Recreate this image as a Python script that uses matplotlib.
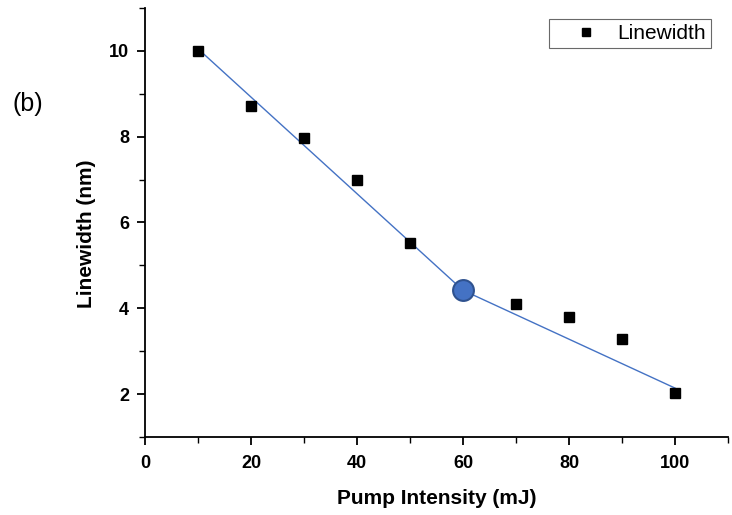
import matplotlib.pyplot as plt
from matplotlib.ticker import MultipleLocator

# measured points
pump = [10, 20, 30, 40, 50, 70, 80, 90, 100]
linewidth = [10.0, 8.72, 7.98, 6.98, 5.53, 4.09, 3.79, 3.28, 2.02]

# two linear fit segments meeting at the threshold point
fit1_x = [10, 60]
fit1_y = [10.05, 4.42]
fit2_x = [60, 100]
fit2_y = [4.42, 2.14]

knee_x = [60]
knee_y = [4.42]


def main():
    plt.rcParams['font.family'] = ['Liberation Sans', 'DejaVu Sans']
    fig = plt.figure(figsize=(7.32, 5.15), dpi=100)
    ax = fig.add_axes([0.198, 0.1515, 0.7965, 0.833])

    ax.plot(fit1_x, fit1_y, color='#4472C4', lw=1.0, zorder=2)
    ax.plot(fit2_x, fit2_y, color='#4472C4', lw=1.0, zorder=2)
    ax.plot(pump, linewidth, 's', color='black', ms=7, label='Linewidth', zorder=3)
    ax.plot(knee_x, knee_y, 'o', color='#4472C4', mec='#2F528F', mew=1.5, ms=15, zorder=4)

    ax.set_xlim(0, 110)
    ax.set_ylim(1, 11)
    ax.xaxis.set_major_locator(MultipleLocator(20))
    ax.xaxis.set_minor_locator(MultipleLocator(10))
    ax.yaxis.set_major_locator(MultipleLocator(2))
    ax.yaxis.set_minor_locator(MultipleLocator(1))
    ax.spines['top'].set_visible(False)
    ax.spines['right'].set_visible(False)
    for s in ('left', 'bottom'):
        ax.spines[s].set_linewidth(1.3)
    ax.tick_params(which='major', direction='out', length=6, width=1.3, labelsize=13)
    ax.tick_params(which='minor', direction='out', length=4, width=1.0)
    ax.tick_params(axis='x', which='major', pad=7)
    ax.tick_params(axis='y', which='major', pad=5.5)
    for lab in ax.get_xticklabels() + ax.get_yticklabels():
        lab.set_fontweight('bold')

    ax.set_xlabel('Pump Intensity (mJ)', fontsize=15, fontweight='bold', labelpad=12)
    ax.set_ylabel('Linewidth (nm)', fontsize=15, fontweight='bold')
    ax.yaxis.set_label_coords(-0.084, 0.474)

    leg = ax.legend(loc='upper right', bbox_to_anchor=(711 / 732, 1 - 19 / 515),
                    bbox_transform=fig.transFigure, borderaxespad=0, fontsize=15,
                    frameon=True, fancybox=False, edgecolor='#444444',
                    borderpad=0.25, handlelength=3.0, handletextpad=0.0,
                    markerscale=0.9)
    leg.get_frame().set_linewidth(0.8)

    fig.text(0.017, 0.785, '(b)', fontsize=18)

    fig.savefig('out.png', dpi=100)


if __name__ == "__main__":
    main()
